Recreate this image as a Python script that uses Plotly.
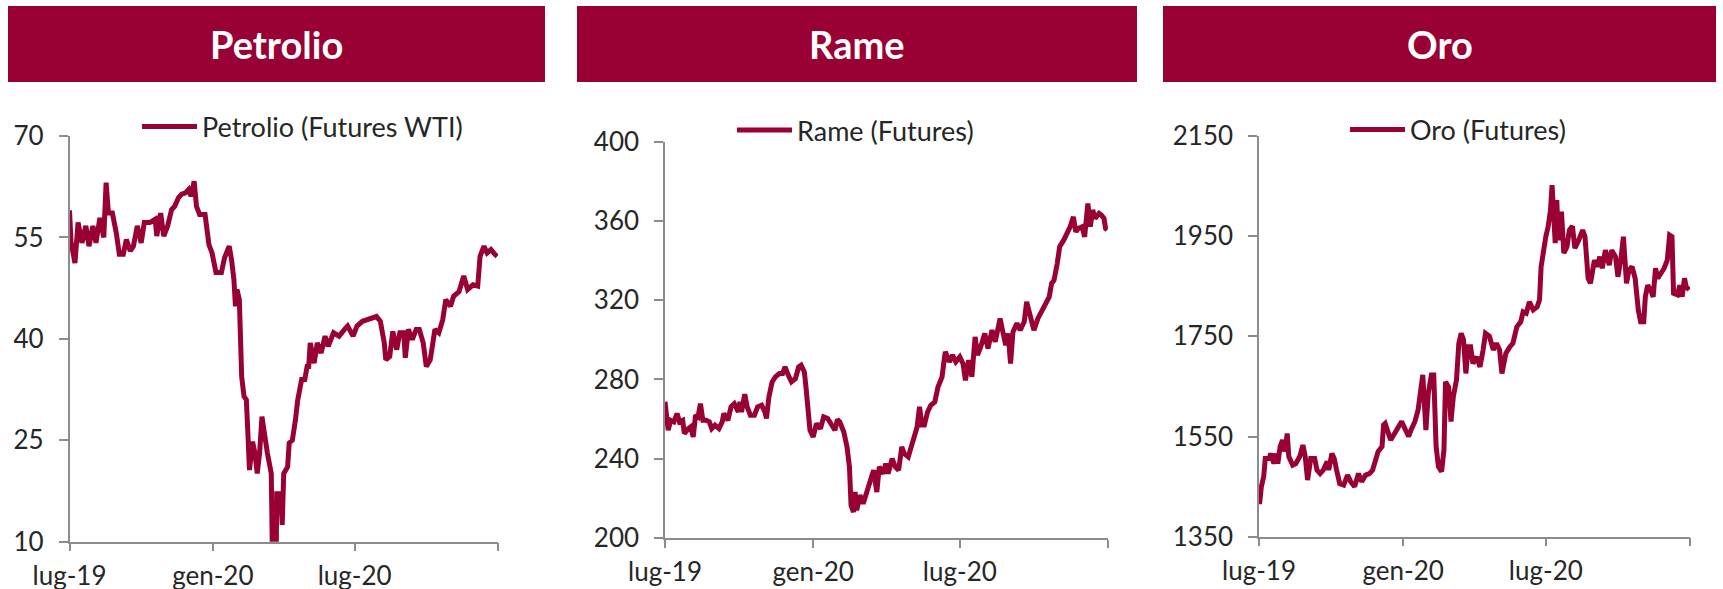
import pandas as pd
import plotly.graph_objects as go

# ---------------- data ----------------
start_date = "2019-07-31"
tick_dates = ["2019-07-31", "2020-01-31", "2020-07-31", "2021-01-31"]
tick_labels = ["lug-19", "gen-20", "lug-20", ""]

panel_titles = ["Petrolio", "Rame", "Oro"]
series_names = ["Petrolio (Futures WTI)", "Rame (Futures)", "Oro (Futures)"]

# days since start_date
petrolio_days = [0, 2, 7, 11, 16, 21, 25, 30, 34, 39, 44, 47, 50, 55, 60, 64, 69, 73, 78, 82,
                 87, 92, 96, 103, 110, 112, 117, 121, 126, 131, 135, 140, 144, 149, 153, 156, 160, 163, 167, 174,
                 179, 183, 188, 195, 199, 205, 208, 211, 213, 215, 218, 221, 224, 227, 229, 231, 235, 238, 241, 244,
                 247, 251, 254, 259, 261, 265, 266, 271, 273, 275, 280, 282, 286, 290, 293, 298, 302, 305, 307, 309,
                 314, 318, 323, 328, 332, 339, 346, 353, 357, 364, 369, 376, 383, 390, 394, 399, 404, 406, 411, 415,
                 420, 424, 429, 431, 435, 440, 445, 449, 454, 458, 463, 466, 469, 474, 479, 483, 489, 493, 500, 506,
                 511, 518, 524, 527, 532, 536, 541, 546, 549]
petrolio_values = [59.0, 54.3, 51.2, 57.2, 54.2, 56.7, 53.7, 56.7, 54.2, 57.9, 55.0, 63.1, 58.6, 58.6, 55.7, 52.5, 52.5, 54.7, 53.0, 53.7,
                   56.7, 54.2, 57.2, 57.2, 57.7, 55.2, 58.6, 55.2, 56.7, 59.1, 59.6, 60.9, 61.4, 61.6, 62.1, 61.1, 63.3, 59.6, 58.4, 58.4,
                   53.9, 52.7, 49.8, 49.8, 52.0, 53.7, 51.7, 48.8, 44.8, 47.3, 45.8, 34.4, 31.5, 31.0, 26.0, 20.6, 24.8, 23.1, 20.1, 23.1,
                   28.5, 25.0, 23.1, 20.1, 3.0, 3.0, 17.1, 17.1, 12.5, 20.1, 21.1, 24.6, 25.0, 28.0, 31.0, 34.0, 34.0, 35.9, 35.9, 39.4,
                   36.4, 39.4, 37.9, 40.4, 38.9, 40.9, 40.4, 41.4, 41.9, 40.4, 41.9, 42.6, 42.8, 43.1, 43.3, 42.6, 39.4, 36.9, 37.4, 41.1,
                   38.4, 40.9, 40.9, 37.2, 41.4, 39.9, 41.4, 41.4, 39.4, 35.9, 36.9, 39.1, 41.4, 40.9, 42.8, 45.8, 44.8, 46.3, 47.0, 49.3,
                   47.3, 48.0, 47.8, 52.2, 53.7, 52.7, 53.2, 52.5, 52.2]

rame_days = [0, 2, 4, 7, 11, 15, 18, 22, 24, 29, 32, 35, 38, 41, 44, 47, 51, 55, 58, 62,
             67, 71, 73, 78, 82, 86, 91, 93, 95, 99, 102, 106, 111, 115, 120, 124, 126, 129, 133, 137,
             142, 146, 149, 153, 157, 162, 166, 169, 173, 175, 177, 180, 184, 188, 193, 197, 202, 206, 211, 214,
             217, 222, 226, 229, 231, 234, 236, 238, 242, 246, 251, 255, 259, 263, 266, 271, 274, 277, 282, 286,
             290, 294, 297, 302, 306, 310, 313, 316, 319, 322, 326, 330, 335, 339, 344, 346, 348, 353, 357, 361,
             366, 370, 373, 377, 381, 385, 388, 392, 397, 401, 406, 410, 416, 419, 423, 426, 429, 432, 437, 441,
             446, 449, 454, 458, 463, 468, 472, 477, 480, 483, 487, 490, 495, 499, 503, 507, 510, 513, 518, 521,
             525, 528, 531, 534, 539, 542, 545, 547, 549]
rame_values = [268.7, 257.0, 254.4, 259.4, 258.6, 262.8, 258.6, 259.4, 252.7, 255.2,
               256.1, 251.0, 262.0, 261.1, 267.8, 259.4, 259.4, 258.6, 255.2, 256.9,
               255.2, 258.6, 262.8, 259.4, 266.2, 267.8, 263.6, 268.7, 263.6, 272.6,
               266.2, 262.0, 262.0, 266.2, 267.0, 263.6, 260.3, 271.2, 278.8, 281.3,
               283.0, 283.0, 286.4, 282.2, 278.8, 280.5, 286.4, 287.2, 283.8, 276.3,
               266.2, 254.4, 251.0, 257.7, 255.2, 261.1, 260.3, 257.7, 254.4, 259.8,
               258.6, 253.5, 246.0, 235.9, 216.5, 213.1, 223.2, 214.0, 221.6, 217.3,
               224.1, 230.8, 234.2, 223.2, 235.9, 232.5, 237.5, 232.5, 240.0, 235.9,
               234.2, 246.0, 242.6, 240.9, 246.0, 251.0, 256.0, 266.2, 257.0, 257.0,
               263.6, 267.0, 268.7, 276.3, 281.3, 288.0, 294.0, 288.9, 292.3, 288.9,
               291.4, 288.0, 279.6, 289.7, 281.3, 301.5, 292.3, 296.5, 303.2, 295.6,
               304.9, 299.0, 310.8, 304.9, 297.3, 303.2, 288.0, 304.0, 308.3, 304.9,
               309.1, 319.2, 309.9, 304.9, 310.8, 315.1, 318.4, 321.7, 328.5, 330.1,
               338.6, 347.0, 350.3, 353.7, 357.1, 362.1, 354.5, 356.2, 357.1, 352.0,
               368.8, 357.1, 365.5, 361.3, 363.8, 362.9, 361.3, 356.2, 355.4]

oro_days = [0, 1, 3, 6, 8, 13, 15, 19, 22, 24, 27, 30, 33, 36, 38, 43, 47, 52, 56, 59,
            62, 66, 71, 74, 78, 82, 87, 89, 93, 96, 99, 103, 108, 113, 117, 122, 127, 131, 136, 141,
            145, 149, 152, 157, 159, 161, 164, 168, 173, 178, 182, 187, 191, 194, 199, 203, 206, 209, 213, 216,
            220, 223, 226, 229, 233, 236, 238, 242, 245, 248, 252, 255, 258, 261, 264, 267, 270, 273, 278, 282,
            286, 289, 294, 299, 303, 307, 310, 315, 320, 324, 329, 334, 337, 341, 345, 350, 355, 358, 360, 363,
            366, 369, 372, 374, 376, 378, 380, 382, 386, 389, 393, 396, 400, 403, 408, 413, 416, 420, 423, 428,
            431, 435, 438, 442, 447, 450, 455, 458, 462, 465, 469, 472, 476, 480, 484, 487, 491, 493, 496, 500,
            503, 506, 509, 513, 517, 521, 524, 527, 529, 534, 537, 540, 543, 545, 549]
oro_values = [1420, 1420, 1450, 1470, 1506, 1506, 1516, 1496, 1516, 1496, 1530, 1543, 1520, 1556, 1510, 1493, 1496, 1510, 1533, 1510,
              1463, 1506, 1506, 1483, 1476, 1483, 1500, 1483, 1516, 1506, 1483, 1456, 1453, 1473, 1460, 1450, 1476, 1460, 1473, 1476,
              1483, 1510, 1520, 1530, 1573, 1576, 1560, 1543, 1556, 1570, 1580, 1563, 1550, 1563, 1580, 1603, 1650, 1673, 1563, 1636,
              1673, 1673, 1530, 1490, 1480, 1523, 1659, 1649, 1580, 1630, 1663, 1736, 1756, 1743, 1676, 1729, 1729, 1696, 1709, 1689,
              1723, 1756, 1750, 1723, 1736, 1723, 1676, 1716, 1729, 1736, 1769, 1779, 1799, 1796, 1819, 1803, 1809, 1823, 1889, 1922,
              1949, 1969, 2002, 2052, 1989, 1936, 2022, 1942, 1999, 1916, 1929, 1962, 1970, 1926, 1942, 1962, 1949, 1866, 1856, 1902,
              1889, 1909, 1886, 1922, 1892, 1922, 1909, 1869, 1906, 1949, 1856, 1882, 1889, 1866, 1803, 1779, 1779, 1829, 1852, 1842,
              1829, 1886, 1866, 1876, 1886, 1902, 1952, 1949, 1836, 1833, 1852, 1829, 1866, 1849, 1843]

y_ranges = [[10, 70], [200, 400], [1350, 2150]]
y_ticks = [[10, 25, 40, 55, 70], [200, 240, 280, 320, 360, 400], [1350, 1550, 1750, 1950, 2150]]

# ---------------- layout helpers (pixels) ----------------
W, H = 1723, 589
RED = "#990033"
TXT = "#262626"
AX = "#8c8c8c"
FONT = "Lato"


def px_x(v):
    return v / W


def px_y(v):
    return 1 - v / H


# plot areas: (left, right, top, bottom) in px
areas = [(69.5, 498, 136, 541.7), (665, 1108, 141.7, 538), (1259, 1690, 136, 536.7)]
headers = [(8, 545), (577, 1137), (1163, 1716)]
header_y = (6, 82)
legend_pos = [(137, 127), (732, 130.5), (1345, 130)]

t0 = pd.Timestamp(start_date)
series = [(petrolio_days, petrolio_values), (rame_days, rame_values), (oro_days, oro_values)]

fig = go.Figure()
for i, (days, vals) in enumerate(series):
    dates = t0 + pd.to_timedelta(days, unit="D")
    sfx = "" if i == 0 else str(i + 1)
    fig.add_trace(go.Scatter(
        x=dates, y=vals, mode="lines", name=series_names[i],
        line=dict(color=RED, width=5),
        xaxis="x" + sfx, yaxis="y" + sfx,
        legend="legend" + sfx, showlegend=True,
    ))

layout = dict(
    template="none",
    width=W, height=H, autosize=False,
    margin=dict(l=0, r=0, t=0, b=0, pad=0, autoexpand=False),
    paper_bgcolor="white", plot_bgcolor="white",
    font=dict(family=FONT, size=26, color=TXT),
    shapes=[], annotations=[],
)

for i in range(3):
    sfx = "" if i == 0 else str(i + 1)
    l, r, t, b = areas[i]
    layout["xaxis" + sfx] = dict(
        domain=[px_x(l), px_x(r)], anchor="y" + sfx, automargin=False,
        type="date", range=[tick_dates[0], tick_dates[-1]],
        tickmode="array", tickvals=tick_dates, ticktext=tick_labels,
        showline=True, linecolor=AX, linewidth=1.5,
        ticks="outside", ticklen=8, tickwidth=1.5, tickcolor=AX,
        showgrid=False, zeroline=False, ticklabelstandoff=2,
        tickfont=dict(family=FONT, size=26, color=TXT),
        fixedrange=True,
    )
    layout["yaxis" + sfx] = dict(
        domain=[px_y(b), px_y(t)], anchor="x" + sfx, automargin=False,
        range=y_ranges[i], tickmode="array", tickvals=y_ticks[i],
        showline=True, linecolor=AX, linewidth=1.5,
        ticks="outside", ticklen=9, tickwidth=1.5, tickcolor=AX,
        showgrid=False, zeroline=False, ticklabelstandoff=10,
        tickfont=dict(family=FONT, size=26, color=TXT),
        fixedrange=True,
    )
    lx, ly = legend_pos[i]
    layout["legend" + sfx] = dict(
        x=px_x(lx), y=px_y(ly), xanchor="left", yanchor="middle",
        bgcolor="rgba(0,0,0,0)", borderwidth=0, itemwidth=55,
        font=dict(family=FONT, size=27, color=TXT),
    )
    hx0, hx1 = headers[i]
    layout["shapes"].append(dict(
        type="rect", xref="paper", yref="paper",
        x0=px_x(hx0), x1=px_x(hx1), y0=px_y(header_y[1]), y1=px_y(header_y[0]),
        fillcolor=RED, line=dict(width=0), layer="below",
    ))
    layout["annotations"].append(dict(
        text=panel_titles[i], xref="paper", yref="paper",
        x=px_x((hx0 + hx1) / 2), y=px_y(sum(header_y) / 2),
        xanchor="center", yanchor="middle", showarrow=False,
        font=dict(family=FONT, size=38, color="white", weight=700),
    ))

fig.update_layout(**layout)
fig.write_html(
    "out.html",
    config={"displayModeBar": False},
    post_script="document.body.style.margin='0';document.body.style.padding='0';document.body.style.overflow='hidden';",
)
